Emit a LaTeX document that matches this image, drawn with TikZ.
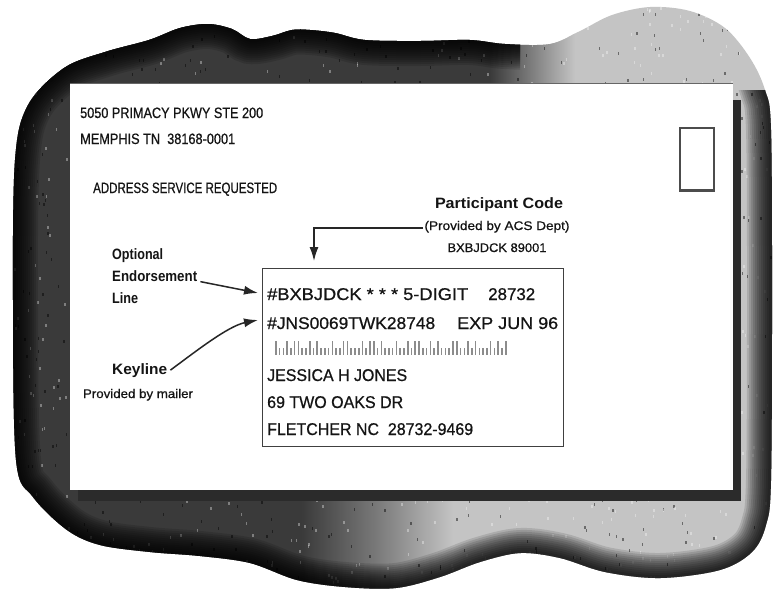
\documentclass[tikz,border=0pt]{standalone}
\usepackage{fontspec}
\setmainfont{Liberation Sans}
\newfontfamily\heavy[FakeBold=0.7]{Liberation Sans}
\usepackage{graphicx}
\usetikzlibrary{arrows.meta}
\definecolor{blobdark}{HTML}{3A3A3A}
\definecolor{blobmid}{HTML}{7A7A7A}
\definecolor{bloblight}{HTML}{C4C4C4}
\definecolor{shadowc}{HTML}{2B2B2B}
\definecolor{barc}{HTML}{8C8C8C}
\pgfdeclarehorizontalshading{blobshade}{100bp}{color(0bp)=(blobdark); color(44bp)=(blobdark); color(49bp)=(blobmid); color(54bp)=(bloblight); color(100bp)=(bloblight)}
\newcommand\fw[2]{\resizebox{#1pt}{\height}{#2}}
\begin{document}
\begin{tikzpicture}[x=1pt,y=-1pt,
  txt/.style={inner sep=0pt, anchor=base west, text=black!92},
  retadr/.style={txt, font=\heavy\fontsize{15}{15}\selectfont},
  boxtxt/.style={txt, font=\heavy\fontsize{17}{17}\selectfont},
  lbl/.style={txt, font=\bfseries\fontsize{15}{15}\selectfont},
  sublbl/.style={txt, font=\heavy\fontsize{12.5}{12.5}\selectfont},
  arr/.style={-{Latex[length=14pt,width=9pt]}, line width=1.5pt, draw=black!85},
  barbar/.style={fill=barc}]
\useasboundingbox (0,0) rectangle (775,590);
\fill[white] (0,0) rectangle (775,590);
\def\blob{plot[smooth cycle,tension=0.55] coordinates{
 (64,68) (105,52) (149,40) (180,28) (208,24) (232,29) (250,39) (272,36) (292,30) (310,30)
 (335,33) (365,40) (420,41) (470,40) (505,44) (550,44) (580,31) (612,15) (650,7) (690,11)
 (725,28) (750,58) (765,90) (771,130) (772,300) (771,480) (766,525) (752,552) (720,570)
 (660,578) (605,572) (560,558) (520,553) (480,562) (440,577) (396,588) (345,587) (297,580)
 (250,563) (200,556) (150,552) (100,545) (67,530) (33,497) (16,460) (13,300) (15,160) (28,105)}}
\shade[shading=blobshade] \blob;
\begin{scope}
  \clip \blob;
  \fill[blobdark] (0,0) rectangle (490,95);
  \shade[left color=blobdark, right color=bloblight] (490,0) rectangle (575,95);
  \pgfmathsetseed{12}
  \foreach \k in {1,...,1600}{
    \pgfmathsetmacro\rx{rnd*775}
    \pgfmathsetmacro\ry{rnd*590}
    \pgfmathsetmacro\rs{rnd}
    \ifdim\rs pt<0.5pt
      \fill[white,opacity=0.35] (\rx,\ry) rectangle ++(1.6,3);
    \else
      \fill[black,opacity=0.45] (\rx,\ry) rectangle ++(1.3,3);
    \fi
  }
  \begin{scope}
    \clip (0,0) -- (520,0) -- (520,90) -- (775,90) -- (775,590) -- (0,590) -- cycle;
    \foreach \w in {50,46,...,6}
      \draw[line width=\w pt, black, opacity=0.12] \blob;
  \end{scope}
\end{scope}
% envelope
\fill[shadowc] (78,100) rectangle (741,501);
\fill[white] (70,83) rectangle (733,490);
\draw[black!60, line width=0.8pt] (70,83) -- (733,83);
% stamp
\node[draw=black!70, line width=1.3pt, minimum width=34, minimum height=62, inner sep=0pt] (stamp) at (697,159) {};
\draw[line width=2.5pt, black!70] (stamp.south west) -- (stamp.south east);
% return address
\node[retadr] (a1) at (80,118) {\fw{183}{5050 PRIMACY PKWY STE 200}};
\node[retadr] (a2) at (80,144) {\fw{155}{MEMPHIS TN\ \ 38168-0001}};
\node[retadr] (a3) at (93,193) {\fw{184}{ADDRESS SERVICE REQUESTED}};
% participant code
\node[lbl, anchor=base] (pc) at (499,208) {\fw{128}{Participant Code}};
\node[sublbl, anchor=base] (prov) at (497,230) {\fw{145}{(Provided by ACS Dept)}};
\node[sublbl, anchor=base] (pcode) at (497,252) {\fw{99}{BXBJDCK 89001}};
% left labels
\node[lbl] (opt) at (112,259) {\fw{51}{Optional}};
\node[lbl] (endo) at (112,281) {\fw{85}{Endorsement}};
\node[lbl] (lin) at (112,303) {\fw{26}{Line}};
\node[lbl] (key) at (112,374) {\fw{55}{Keyline}};
\node[sublbl, anchor=base] (pbm) at (138,398) {\fw{110}{Provided by mailer}};
% address box
\node[draw=black!75, line width=1.2pt, minimum width=301, minimum height=178, inner sep=0pt, anchor=north west] (box) at (262,268) {};
\node[boxtxt] (b1a) at (267,300) {\fw{201}{\#BXBJDCK * * * 5-DIGIT}};
\node[boxtxt] (b1b) at (488,300) {\fw{47}{28732}};
\node[boxtxt] (b2a) at (267,329) {\fw{168}{\#JNS0069TWK28748}};
\node[boxtxt] (b2b) at (457,329) {\fw{101}{EXP JUN 96}};
\node[boxtxt] (b4) at (267,381) {\fw{140}{JESSICA H JONES}};
\node[boxtxt] (b5) at (267,408) {\fw{136}{69 TWO OAKS DR}};
\node[boxtxt] (b6) at (267,435) {\fw{206}{FLETCHER NC\ \ 28732-9469}};
% barcode
\foreach \b [count=\i from 0] in {1,0,0,1,0,1,1,0,0,1,0,1,0,0,0,1,0,0,1,1,0,0,0,1,0,1,1,0,1,0,0,0,1,0,0,1,0,1,1,0,0,1,0,1,0,0,0,1,1,0,0,1,0,1,0,0,0,1,0,1,0,1}{
  \pgfmathsetmacro\bx{275+\i*3.77}
  \ifnum\b=1
    \fill[barbar] (\bx,341) rectangle (\bx+1.6,355);
  \else
    \fill[barbar] (\bx,348) rectangle (\bx+1.6,355);
  \fi
}
% arrows
\coordinate (pcl) at (423,228);
\coordinate (pctip) at (314,261);
\coordinate (t1) at (258,293);
\coordinate (t2) at (258,320);
\draw[arr] (pcl) -| (pctip);
\draw[arr] ([xshift=3pt,yshift=-6pt]endo.east) -- (t1);
\draw[arr] ([xshift=3pt]key.east) .. controls (195,352) and (228,326) .. (t2);
\end{tikzpicture}
\end{document}
